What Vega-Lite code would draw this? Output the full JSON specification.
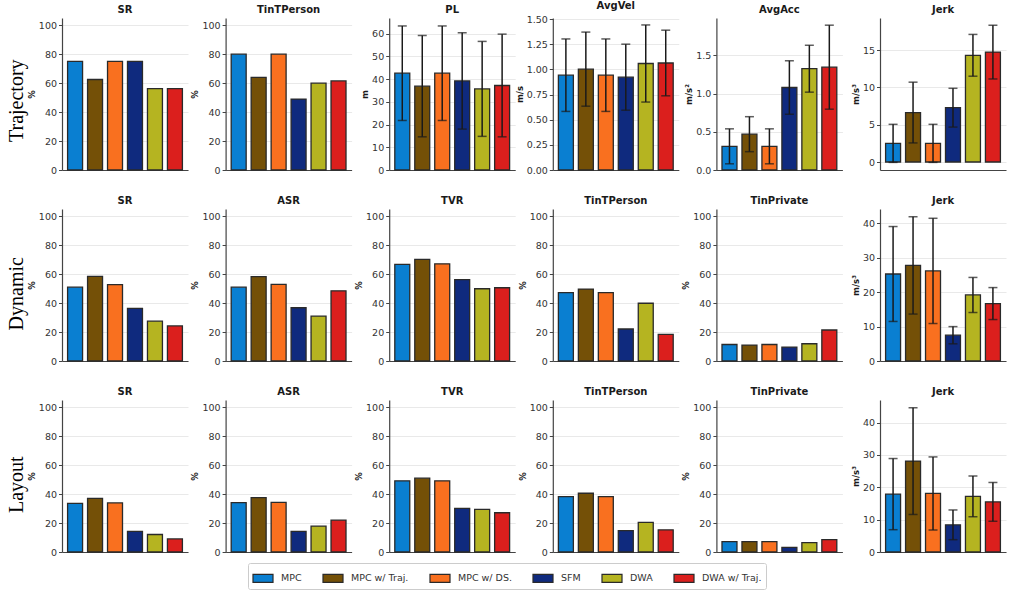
{
  "$schema": "https://vega.github.io/schema/vega-lite/v6.json",
  "background": "white",
  "padding": {"left": 7, "top": 1, "right": 4, "bottom": 2},
  "data": {
    "values": [
      {"scenario": "Trajectory", "metric": "SR", "method": "MPC", "value": 75},
      {"scenario": "Trajectory", "metric": "SR", "method": "MPC w/ Traj.", "value": 62.5},
      {"scenario": "Trajectory", "metric": "SR", "method": "MPC w/ DS.", "value": 75},
      {"scenario": "Trajectory", "metric": "SR", "method": "SFM", "value": 75},
      {"scenario": "Trajectory", "metric": "SR", "method": "DWA", "value": 56.25},
      {"scenario": "Trajectory", "metric": "SR", "method": "DWA w/ Traj.", "value": 56.25},
      {"scenario": "Trajectory", "metric": "TinTPerson", "method": "MPC", "value": 80},
      {"scenario": "Trajectory", "metric": "TinTPerson", "method": "MPC w/ Traj.", "value": 64},
      {"scenario": "Trajectory", "metric": "TinTPerson", "method": "MPC w/ DS.", "value": 80},
      {"scenario": "Trajectory", "metric": "TinTPerson", "method": "SFM", "value": 49},
      {"scenario": "Trajectory", "metric": "TinTPerson", "method": "DWA", "value": 60},
      {"scenario": "Trajectory", "metric": "TinTPerson", "method": "DWA w/ Traj.", "value": 61.5},
      {"scenario": "Trajectory", "metric": "PL", "method": "MPC", "value": 42.6, "err": 20.8},
      {"scenario": "Trajectory", "metric": "PL", "method": "MPC w/ Traj.", "value": 36.9, "err": 22.3},
      {"scenario": "Trajectory", "metric": "PL", "method": "MPC w/ DS.", "value": 42.6, "err": 20.8},
      {"scenario": "Trajectory", "metric": "PL", "method": "SFM", "value": 39.2, "err": 21.2},
      {"scenario": "Trajectory", "metric": "PL", "method": "DWA", "value": 35.7, "err": 20.9},
      {"scenario": "Trajectory", "metric": "PL", "method": "DWA w/ Traj.", "value": 37.2, "err": 22.6},
      {"scenario": "Trajectory", "metric": "AvgVel", "method": "MPC", "value": 0.942, "err": 0.36},
      {"scenario": "Trajectory", "metric": "AvgVel", "method": "MPC w/ Traj.", "value": 1.002, "err": 0.368},
      {"scenario": "Trajectory", "metric": "AvgVel", "method": "MPC w/ DS.", "value": 0.942, "err": 0.36},
      {"scenario": "Trajectory", "metric": "AvgVel", "method": "SFM", "value": 0.922, "err": 0.328},
      {"scenario": "Trajectory", "metric": "AvgVel", "method": "DWA", "value": 1.058, "err": 0.383},
      {"scenario": "Trajectory", "metric": "AvgVel", "method": "DWA w/ Traj.", "value": 1.063, "err": 0.326},
      {"scenario": "Trajectory", "metric": "AvgAcc", "method": "MPC", "value": 0.31, "err": 0.229},
      {"scenario": "Trajectory", "metric": "AvgAcc", "method": "MPC w/ Traj.", "value": 0.469, "err": 0.229},
      {"scenario": "Trajectory", "metric": "AvgAcc", "method": "MPC w/ DS.", "value": 0.31, "err": 0.229},
      {"scenario": "Trajectory", "metric": "AvgAcc", "method": "SFM", "value": 1.08, "err": 0.35},
      {"scenario": "Trajectory", "metric": "AvgAcc", "method": "DWA", "value": 1.326, "err": 0.307},
      {"scenario": "Trajectory", "metric": "AvgAcc", "method": "DWA w/ Traj.", "value": 1.346, "err": 0.55},
      {"scenario": "Trajectory", "metric": "Jerk", "method": "MPC", "value": 2.5, "err": 2.55},
      {"scenario": "Trajectory", "metric": "Jerk", "method": "MPC w/ Traj.", "value": 6.63, "err": 4.07},
      {"scenario": "Trajectory", "metric": "Jerk", "method": "MPC w/ DS.", "value": 2.5, "err": 2.55},
      {"scenario": "Trajectory", "metric": "Jerk", "method": "SFM", "value": 7.28, "err": 2.6},
      {"scenario": "Trajectory", "metric": "Jerk", "method": "DWA", "value": 14.3, "err": 2.8},
      {"scenario": "Trajectory", "metric": "Jerk", "method": "DWA w/ Traj.", "value": 14.73, "err": 3.6},

      {"scenario": "Dynamic", "metric": "SR", "method": "MPC", "value": 51.0},
      {"scenario": "Dynamic", "metric": "SR", "method": "MPC w/ Traj.", "value": 58.5},
      {"scenario": "Dynamic", "metric": "SR", "method": "MPC w/ DS.", "value": 52.7},
      {"scenario": "Dynamic", "metric": "SR", "method": "SFM", "value": 36.4},
      {"scenario": "Dynamic", "metric": "SR", "method": "DWA", "value": 27.5},
      {"scenario": "Dynamic", "metric": "SR", "method": "DWA w/ Traj.", "value": 24.2},
      {"scenario": "Dynamic", "metric": "ASR", "method": "MPC", "value": 51.0},
      {"scenario": "Dynamic", "metric": "ASR", "method": "MPC w/ Traj.", "value": 58.3},
      {"scenario": "Dynamic", "metric": "ASR", "method": "MPC w/ DS.", "value": 52.9},
      {"scenario": "Dynamic", "metric": "ASR", "method": "SFM", "value": 36.8},
      {"scenario": "Dynamic", "metric": "ASR", "method": "DWA", "value": 31.0},
      {"scenario": "Dynamic", "metric": "ASR", "method": "DWA w/ Traj.", "value": 48.5},
      {"scenario": "Dynamic", "metric": "TVR", "method": "MPC", "value": 66.7},
      {"scenario": "Dynamic", "metric": "TVR", "method": "MPC w/ Traj.", "value": 70.2},
      {"scenario": "Dynamic", "metric": "TVR", "method": "MPC w/ DS.", "value": 67.1},
      {"scenario": "Dynamic", "metric": "TVR", "method": "SFM", "value": 56.2},
      {"scenario": "Dynamic", "metric": "TVR", "method": "DWA", "value": 49.9},
      {"scenario": "Dynamic", "metric": "TVR", "method": "DWA w/ Traj.", "value": 50.6},
      {"scenario": "Dynamic", "metric": "TinTPerson", "method": "MPC", "value": 47.3},
      {"scenario": "Dynamic", "metric": "TinTPerson", "method": "MPC w/ Traj.", "value": 49.7},
      {"scenario": "Dynamic", "metric": "TinTPerson", "method": "MPC w/ DS.", "value": 47.3},
      {"scenario": "Dynamic", "metric": "TinTPerson", "method": "SFM", "value": 22.1},
      {"scenario": "Dynamic", "metric": "TinTPerson", "method": "DWA", "value": 39.9},
      {"scenario": "Dynamic", "metric": "TinTPerson", "method": "DWA w/ Traj.", "value": 18.4},
      {"scenario": "Dynamic", "metric": "TinPrivate", "method": "MPC", "value": 11.4},
      {"scenario": "Dynamic", "metric": "TinPrivate", "method": "MPC w/ Traj.", "value": 11.0},
      {"scenario": "Dynamic", "metric": "TinPrivate", "method": "MPC w/ DS.", "value": 11.4},
      {"scenario": "Dynamic", "metric": "TinPrivate", "method": "SFM", "value": 9.6},
      {"scenario": "Dynamic", "metric": "TinPrivate", "method": "DWA", "value": 11.9},
      {"scenario": "Dynamic", "metric": "TinPrivate", "method": "DWA w/ Traj.", "value": 21.4},
      {"scenario": "Dynamic", "metric": "Jerk", "method": "MPC", "value": 25.3, "err": 13.8},
      {"scenario": "Dynamic", "metric": "Jerk", "method": "MPC w/ Traj.", "value": 27.8, "err": 14.15},
      {"scenario": "Dynamic", "metric": "Jerk", "method": "MPC w/ DS.", "value": 26.2, "err": 15.3},
      {"scenario": "Dynamic", "metric": "Jerk", "method": "SFM", "value": 7.5, "err": 2.5},
      {"scenario": "Dynamic", "metric": "Jerk", "method": "DWA", "value": 19.2, "err": 5.1},
      {"scenario": "Dynamic", "metric": "Jerk", "method": "DWA w/ Traj.", "value": 16.7, "err": 4.65},

      {"scenario": "Layout", "metric": "SR", "method": "MPC", "value": 33.6},
      {"scenario": "Layout", "metric": "SR", "method": "MPC w/ Traj.", "value": 37.1},
      {"scenario": "Layout", "metric": "SR", "method": "MPC w/ DS.", "value": 33.9},
      {"scenario": "Layout", "metric": "SR", "method": "SFM", "value": 14.2},
      {"scenario": "Layout", "metric": "SR", "method": "DWA", "value": 12.1},
      {"scenario": "Layout", "metric": "SR", "method": "DWA w/ Traj.", "value": 9.0},
      {"scenario": "Layout", "metric": "ASR", "method": "MPC", "value": 34.1},
      {"scenario": "Layout", "metric": "ASR", "method": "MPC w/ Traj.", "value": 37.6},
      {"scenario": "Layout", "metric": "ASR", "method": "MPC w/ DS.", "value": 34.3},
      {"scenario": "Layout", "metric": "ASR", "method": "SFM", "value": 14.2},
      {"scenario": "Layout", "metric": "ASR", "method": "DWA", "value": 17.9},
      {"scenario": "Layout", "metric": "ASR", "method": "DWA w/ Traj.", "value": 22.0},
      {"scenario": "Layout", "metric": "TVR", "method": "MPC", "value": 49.2},
      {"scenario": "Layout", "metric": "TVR", "method": "MPC w/ Traj.", "value": 51.0},
      {"scenario": "Layout", "metric": "TVR", "method": "MPC w/ DS.", "value": 49.2},
      {"scenario": "Layout", "metric": "TVR", "method": "SFM", "value": 30.2},
      {"scenario": "Layout", "metric": "TVR", "method": "DWA", "value": 29.5},
      {"scenario": "Layout", "metric": "TVR", "method": "DWA w/ Traj.", "value": 27.1},
      {"scenario": "Layout", "metric": "TinTPerson", "method": "MPC", "value": 38.3},
      {"scenario": "Layout", "metric": "TinTPerson", "method": "MPC w/ Traj.", "value": 40.6},
      {"scenario": "Layout", "metric": "TinTPerson", "method": "MPC w/ DS.", "value": 38.3},
      {"scenario": "Layout", "metric": "TinTPerson", "method": "SFM", "value": 14.8},
      {"scenario": "Layout", "metric": "TinTPerson", "method": "DWA", "value": 20.4},
      {"scenario": "Layout", "metric": "TinTPerson", "method": "DWA w/ Traj.", "value": 15.3},
      {"scenario": "Layout", "metric": "TinPrivate", "method": "MPC", "value": 7.2},
      {"scenario": "Layout", "metric": "TinPrivate", "method": "MPC w/ Traj.", "value": 7.2},
      {"scenario": "Layout", "metric": "TinPrivate", "method": "MPC w/ DS.", "value": 7.2},
      {"scenario": "Layout", "metric": "TinPrivate", "method": "SFM", "value": 3.2},
      {"scenario": "Layout", "metric": "TinPrivate", "method": "DWA", "value": 6.5},
      {"scenario": "Layout", "metric": "TinPrivate", "method": "DWA w/ Traj.", "value": 8.6},
      {"scenario": "Layout", "metric": "Jerk", "method": "MPC", "value": 17.9, "err": 11.0},
      {"scenario": "Layout", "metric": "Jerk", "method": "MPC w/ Traj.", "value": 28.1, "err": 16.5},
      {"scenario": "Layout", "metric": "Jerk", "method": "MPC w/ DS.", "value": 18.1, "err": 11.3},
      {"scenario": "Layout", "metric": "Jerk", "method": "SFM", "value": 8.4, "err": 4.6},
      {"scenario": "Layout", "metric": "Jerk", "method": "DWA", "value": 17.2, "err": 6.3},
      {"scenario": "Layout", "metric": "Jerk", "method": "DWA w/ Traj.", "value": 15.5, "err": 6.0}
    ]
  },
  "spacing": 21,
  "vconcat": [
    {
      "title": {"text": "Trajectory", "orient": "left", "anchor": "middle", "frame": "bounds", "font": "Liberation Serif", "fontSize": 20, "fontWeight": "normal", "color": "#000", "offset": 0, "dx": -13},
      "bounds": "flush",
      "spacing": 37.6,
      "hconcat": [
        {
          "title": "SR", "width": 126, "height": 152,
          "transform": [{"filter": "datum.scenario === 'Trajectory' && datum.metric === 'SR'"}],
          "encoding": {
            "x": {"field": "method", "type": "nominal", "sort": null, "scale": {"paddingInner": 0.25, "paddingOuter": 0.28}, "axis": {"labels": false, "ticks": false, "title": null}},
            "y": {"field": "value", "type": "quantitative", "scale": {"domain": [0, 105], "nice": false}, "axis": {"title": "%", "values": [0, 20, 40, 60, 80, 100]}}
          },
          "layer": [
            {"mark": {"type": "bar", "stroke": "#2a2a2a", "strokeWidth": 1.3}, "encoding": {"color": {"field": "method", "type": "nominal", "scale": {"domain": ["MPC", "MPC w/ Traj.", "MPC w/ DS.", "SFM", "DWA", "DWA w/ Traj."], "range": ["#0a7fd1", "#745007", "#f9701f", "#0f2a7e", "#b5b421", "#db1f1d"]}}}}
          ]
        },
        {
          "title": "TinTPerson", "width": 126, "height": 152,
          "transform": [{"filter": "datum.scenario === 'Trajectory' && datum.metric === 'TinTPerson'"}],
          "encoding": {
            "x": {"field": "method", "type": "nominal", "sort": null, "scale": {"paddingInner": 0.25, "paddingOuter": 0.28}, "axis": {"labels": false, "ticks": false, "title": null}},
            "y": {"field": "value", "type": "quantitative", "scale": {"domain": [0, 105], "nice": false}, "axis": {"title": "%", "values": [0, 20, 40, 60, 80, 100]}}
          },
          "layer": [
            {"mark": {"type": "bar", "stroke": "#2a2a2a", "strokeWidth": 1.3}, "encoding": {"color": {"field": "method", "type": "nominal", "scale": {"domain": ["MPC", "MPC w/ Traj.", "MPC w/ DS.", "SFM", "DWA", "DWA w/ Traj."], "range": ["#0a7fd1", "#745007", "#f9701f", "#0f2a7e", "#b5b421", "#db1f1d"]}}}}
          ]
        },
        {
          "title": "PL", "width": 126, "height": 152,
          "transform": [{"filter": "datum.scenario === 'Trajectory' && datum.metric === 'PL'"}],
          "encoding": {
            "x": {"field": "method", "type": "nominal", "sort": null, "scale": {"paddingInner": 0.25, "paddingOuter": 0.28}, "axis": {"labels": false, "ticks": false, "title": null}},
            "y": {"field": "value", "type": "quantitative", "scale": {"domain": [0, 66.9], "nice": false}, "axis": {"title": "m", "values": [0, 10, 20, 30, 40, 50, 60]}}
          },
          "layer": [
            {"mark": {"type": "bar", "stroke": "#2a2a2a", "strokeWidth": 1.3}, "encoding": {"color": {"field": "method", "type": "nominal", "scale": {"domain": ["MPC", "MPC w/ Traj.", "MPC w/ DS.", "SFM", "DWA", "DWA w/ Traj."], "range": ["#0a7fd1", "#745007", "#f9701f", "#0f2a7e", "#b5b421", "#db1f1d"]}}}},
            {"mark": {"type": "errorbar", "ticks": {"size": 9}, "thickness": 1.5, "color": "#1a1a1a"}, "encoding": {"y": {"field": "value", "type": "quantitative"}, "yError": {"field": "err"}}}
          ]
        },
        {
          "title": "AvgVel", "width": 126, "height": 152,
          "transform": [{"filter": "datum.scenario === 'Trajectory' && datum.metric === 'AvgVel'"}],
          "encoding": {
            "x": {"field": "method", "type": "nominal", "sort": null, "scale": {"paddingInner": 0.25, "paddingOuter": 0.28}, "axis": {"labels": false, "ticks": false, "title": null}},
            "y": {"field": "value", "type": "quantitative", "scale": {"domain": [0, 1.51], "nice": false}, "axis": {"title": "m/s", "format": ".2f", "values": [0, 0.25, 0.5, 0.75, 1, 1.25, 1.5]}}
          },
          "layer": [
            {"mark": {"type": "bar", "stroke": "#2a2a2a", "strokeWidth": 1.3}, "encoding": {"color": {"field": "method", "type": "nominal", "scale": {"domain": ["MPC", "MPC w/ Traj.", "MPC w/ DS.", "SFM", "DWA", "DWA w/ Traj."], "range": ["#0a7fd1", "#745007", "#f9701f", "#0f2a7e", "#b5b421", "#db1f1d"]}}}},
            {"mark": {"type": "errorbar", "ticks": {"size": 9}, "thickness": 1.5, "color": "#1a1a1a"}, "encoding": {"y": {"field": "value", "type": "quantitative"}, "yError": {"field": "err"}}}
          ]
        },
        {
          "title": "AvgAcc", "width": 126, "height": 152,
          "transform": [{"filter": "datum.scenario === 'Trajectory' && datum.metric === 'AvgAcc'"}],
          "encoding": {
            "x": {"field": "method", "type": "nominal", "sort": null, "scale": {"paddingInner": 0.25, "paddingOuter": 0.28}, "axis": {"labels": false, "ticks": false, "title": null}},
            "y": {"field": "value", "type": "quantitative", "scale": {"domain": [0, 1.99], "nice": false}, "axis": {"title": "m/s²", "format": ".1f", "values": [0, 0.5, 1, 1.5]}}
          },
          "layer": [
            {"mark": {"type": "bar", "stroke": "#2a2a2a", "strokeWidth": 1.3}, "encoding": {"color": {"field": "method", "type": "nominal", "scale": {"domain": ["MPC", "MPC w/ Traj.", "MPC w/ DS.", "SFM", "DWA", "DWA w/ Traj."], "range": ["#0a7fd1", "#745007", "#f9701f", "#0f2a7e", "#b5b421", "#db1f1d"]}}}},
            {"mark": {"type": "errorbar", "ticks": {"size": 9}, "thickness": 1.5, "color": "#1a1a1a"}, "encoding": {"y": {"field": "value", "type": "quantitative"}, "yError": {"field": "err"}}}
          ]
        },
        {
          "title": "Jerk", "width": 126, "height": 152,
          "transform": [{"filter": "datum.scenario === 'Trajectory' && datum.metric === 'Jerk'"}],
          "encoding": {
            "x": {"field": "method", "type": "nominal", "sort": null, "scale": {"paddingInner": 0.25, "paddingOuter": 0.28}, "axis": {"labels": false, "ticks": false, "title": null}},
            "y": {"field": "value", "type": "quantitative", "scale": {"domain": [-1.07, 19.3], "nice": false}, "axis": {"title": "m/s³", "values": [0, 5, 10, 15]}}
          },
          "layer": [
            {"mark": {"type": "bar", "stroke": "#2a2a2a", "strokeWidth": 1.3}, "encoding": {"color": {"field": "method", "type": "nominal", "scale": {"domain": ["MPC", "MPC w/ Traj.", "MPC w/ DS.", "SFM", "DWA", "DWA w/ Traj."], "range": ["#0a7fd1", "#745007", "#f9701f", "#0f2a7e", "#b5b421", "#db1f1d"]}}}},
            {"mark": {"type": "errorbar", "ticks": {"size": 9}, "thickness": 1.5, "color": "#1a1a1a"}, "encoding": {"y": {"field": "value", "type": "quantitative"}, "yError": {"field": "err"}}}
          ]
        }
      ]
    },
    {
      "title": {"text": "Dynamic", "orient": "left", "anchor": "middle", "frame": "bounds", "font": "Liberation Serif", "fontSize": 20, "fontWeight": "normal", "color": "#000", "offset": 0, "dx": -13},
      "bounds": "flush",
      "spacing": 37.6,
      "hconcat": [
        {
          "title": "SR", "width": 126, "height": 152,
          "transform": [{"filter": "datum.scenario === 'Dynamic' && datum.metric === 'SR'"}],
          "encoding": {
            "x": {"field": "method", "type": "nominal", "sort": null, "scale": {"paddingInner": 0.25, "paddingOuter": 0.28}, "axis": {"labels": false, "ticks": false, "title": null}},
            "y": {"field": "value", "type": "quantitative", "scale": {"domain": [0, 105], "nice": false}, "axis": {"title": "%", "values": [0, 20, 40, 60, 80, 100]}}
          },
          "layer": [
            {"mark": {"type": "bar", "stroke": "#2a2a2a", "strokeWidth": 1.3}, "encoding": {"color": {"field": "method", "type": "nominal", "scale": {"domain": ["MPC", "MPC w/ Traj.", "MPC w/ DS.", "SFM", "DWA", "DWA w/ Traj."], "range": ["#0a7fd1", "#745007", "#f9701f", "#0f2a7e", "#b5b421", "#db1f1d"]}}}}
          ]
        },
        {
          "title": "ASR", "width": 126, "height": 152,
          "transform": [{"filter": "datum.scenario === 'Dynamic' && datum.metric === 'ASR'"}],
          "encoding": {
            "x": {"field": "method", "type": "nominal", "sort": null, "scale": {"paddingInner": 0.25, "paddingOuter": 0.28}, "axis": {"labels": false, "ticks": false, "title": null}},
            "y": {"field": "value", "type": "quantitative", "scale": {"domain": [0, 105], "nice": false}, "axis": {"title": "%", "values": [0, 20, 40, 60, 80, 100]}}
          },
          "layer": [
            {"mark": {"type": "bar", "stroke": "#2a2a2a", "strokeWidth": 1.3}, "encoding": {"color": {"field": "method", "type": "nominal", "scale": {"domain": ["MPC", "MPC w/ Traj.", "MPC w/ DS.", "SFM", "DWA", "DWA w/ Traj."], "range": ["#0a7fd1", "#745007", "#f9701f", "#0f2a7e", "#b5b421", "#db1f1d"]}}}}
          ]
        },
        {
          "title": "TVR", "width": 126, "height": 152,
          "transform": [{"filter": "datum.scenario === 'Dynamic' && datum.metric === 'TVR'"}],
          "encoding": {
            "x": {"field": "method", "type": "nominal", "sort": null, "scale": {"paddingInner": 0.25, "paddingOuter": 0.28}, "axis": {"labels": false, "ticks": false, "title": null}},
            "y": {"field": "value", "type": "quantitative", "scale": {"domain": [0, 105], "nice": false}, "axis": {"title": "%", "values": [0, 20, 40, 60, 80, 100]}}
          },
          "layer": [
            {"mark": {"type": "bar", "stroke": "#2a2a2a", "strokeWidth": 1.3}, "encoding": {"color": {"field": "method", "type": "nominal", "scale": {"domain": ["MPC", "MPC w/ Traj.", "MPC w/ DS.", "SFM", "DWA", "DWA w/ Traj."], "range": ["#0a7fd1", "#745007", "#f9701f", "#0f2a7e", "#b5b421", "#db1f1d"]}}}}
          ]
        },
        {
          "title": "TinTPerson", "width": 126, "height": 152,
          "transform": [{"filter": "datum.scenario === 'Dynamic' && datum.metric === 'TinTPerson'"}],
          "encoding": {
            "x": {"field": "method", "type": "nominal", "sort": null, "scale": {"paddingInner": 0.25, "paddingOuter": 0.28}, "axis": {"labels": false, "ticks": false, "title": null}},
            "y": {"field": "value", "type": "quantitative", "scale": {"domain": [0, 105], "nice": false}, "axis": {"title": "%", "values": [0, 20, 40, 60, 80, 100]}}
          },
          "layer": [
            {"mark": {"type": "bar", "stroke": "#2a2a2a", "strokeWidth": 1.3}, "encoding": {"color": {"field": "method", "type": "nominal", "scale": {"domain": ["MPC", "MPC w/ Traj.", "MPC w/ DS.", "SFM", "DWA", "DWA w/ Traj."], "range": ["#0a7fd1", "#745007", "#f9701f", "#0f2a7e", "#b5b421", "#db1f1d"]}}}}
          ]
        },
        {
          "title": "TinPrivate", "width": 126, "height": 152,
          "transform": [{"filter": "datum.scenario === 'Dynamic' && datum.metric === 'TinPrivate'"}],
          "encoding": {
            "x": {"field": "method", "type": "nominal", "sort": null, "scale": {"paddingInner": 0.25, "paddingOuter": 0.28}, "axis": {"labels": false, "ticks": false, "title": null}},
            "y": {"field": "value", "type": "quantitative", "scale": {"domain": [0, 105], "nice": false}, "axis": {"title": "%", "values": [0, 20, 40, 60, 80, 100]}}
          },
          "layer": [
            {"mark": {"type": "bar", "stroke": "#2a2a2a", "strokeWidth": 1.3}, "encoding": {"color": {"field": "method", "type": "nominal", "scale": {"domain": ["MPC", "MPC w/ Traj.", "MPC w/ DS.", "SFM", "DWA", "DWA w/ Traj."], "range": ["#0a7fd1", "#745007", "#f9701f", "#0f2a7e", "#b5b421", "#db1f1d"]}}}}
          ]
        },
        {
          "title": "Jerk", "width": 126, "height": 152,
          "transform": [{"filter": "datum.scenario === 'Dynamic' && datum.metric === 'Jerk'"}],
          "encoding": {
            "x": {"field": "method", "type": "nominal", "sort": null, "scale": {"paddingInner": 0.25, "paddingOuter": 0.28}, "axis": {"labels": false, "ticks": false, "title": null}},
            "y": {"field": "value", "type": "quantitative", "scale": {"domain": [0, 44.2], "nice": false}, "axis": {"title": "m/s³", "values": [0, 10, 20, 30, 40]}}
          },
          "layer": [
            {"mark": {"type": "bar", "stroke": "#2a2a2a", "strokeWidth": 1.3}, "encoding": {"color": {"field": "method", "type": "nominal", "scale": {"domain": ["MPC", "MPC w/ Traj.", "MPC w/ DS.", "SFM", "DWA", "DWA w/ Traj."], "range": ["#0a7fd1", "#745007", "#f9701f", "#0f2a7e", "#b5b421", "#db1f1d"]}}}},
            {"mark": {"type": "errorbar", "ticks": {"size": 9}, "thickness": 1.5, "color": "#1a1a1a"}, "encoding": {"y": {"field": "value", "type": "quantitative"}, "yError": {"field": "err"}}}
          ]
        }
      ]
    },
    {
      "title": {"text": "Layout", "orient": "left", "anchor": "middle", "frame": "bounds", "font": "Liberation Serif", "fontSize": 20, "fontWeight": "normal", "color": "#000", "offset": 0, "dx": -13},
      "bounds": "flush",
      "spacing": 37.6,
      "hconcat": [
        {
          "title": "SR", "width": 126, "height": 152,
          "transform": [{"filter": "datum.scenario === 'Layout' && datum.metric === 'SR'"}],
          "encoding": {
            "x": {"field": "method", "type": "nominal", "sort": null, "scale": {"paddingInner": 0.25, "paddingOuter": 0.28}, "axis": {"labels": false, "ticks": false, "title": null}},
            "y": {"field": "value", "type": "quantitative", "scale": {"domain": [0, 105], "nice": false}, "axis": {"title": "%", "values": [0, 20, 40, 60, 80, 100]}}
          },
          "layer": [
            {"mark": {"type": "bar", "stroke": "#2a2a2a", "strokeWidth": 1.3}, "encoding": {"color": {"field": "method", "type": "nominal", "scale": {"domain": ["MPC", "MPC w/ Traj.", "MPC w/ DS.", "SFM", "DWA", "DWA w/ Traj."], "range": ["#0a7fd1", "#745007", "#f9701f", "#0f2a7e", "#b5b421", "#db1f1d"]}}}}
          ]
        },
        {
          "title": "ASR", "width": 126, "height": 152,
          "transform": [{"filter": "datum.scenario === 'Layout' && datum.metric === 'ASR'"}],
          "encoding": {
            "x": {"field": "method", "type": "nominal", "sort": null, "scale": {"paddingInner": 0.25, "paddingOuter": 0.28}, "axis": {"labels": false, "ticks": false, "title": null}},
            "y": {"field": "value", "type": "quantitative", "scale": {"domain": [0, 105], "nice": false}, "axis": {"title": "%", "values": [0, 20, 40, 60, 80, 100]}}
          },
          "layer": [
            {"mark": {"type": "bar", "stroke": "#2a2a2a", "strokeWidth": 1.3}, "encoding": {"color": {"field": "method", "type": "nominal", "scale": {"domain": ["MPC", "MPC w/ Traj.", "MPC w/ DS.", "SFM", "DWA", "DWA w/ Traj."], "range": ["#0a7fd1", "#745007", "#f9701f", "#0f2a7e", "#b5b421", "#db1f1d"]}}}}
          ]
        },
        {
          "title": "TVR", "width": 126, "height": 152,
          "transform": [{"filter": "datum.scenario === 'Layout' && datum.metric === 'TVR'"}],
          "encoding": {
            "x": {"field": "method", "type": "nominal", "sort": null, "scale": {"paddingInner": 0.25, "paddingOuter": 0.28}, "axis": {"labels": false, "ticks": false, "title": null}},
            "y": {"field": "value", "type": "quantitative", "scale": {"domain": [0, 105], "nice": false}, "axis": {"title": "%", "values": [0, 20, 40, 60, 80, 100]}}
          },
          "layer": [
            {"mark": {"type": "bar", "stroke": "#2a2a2a", "strokeWidth": 1.3}, "encoding": {"color": {"field": "method", "type": "nominal", "scale": {"domain": ["MPC", "MPC w/ Traj.", "MPC w/ DS.", "SFM", "DWA", "DWA w/ Traj."], "range": ["#0a7fd1", "#745007", "#f9701f", "#0f2a7e", "#b5b421", "#db1f1d"]}}}}
          ]
        },
        {
          "title": "TinTPerson", "width": 126, "height": 152,
          "transform": [{"filter": "datum.scenario === 'Layout' && datum.metric === 'TinTPerson'"}],
          "encoding": {
            "x": {"field": "method", "type": "nominal", "sort": null, "scale": {"paddingInner": 0.25, "paddingOuter": 0.28}, "axis": {"labels": false, "ticks": false, "title": null}},
            "y": {"field": "value", "type": "quantitative", "scale": {"domain": [0, 105], "nice": false}, "axis": {"title": "%", "values": [0, 20, 40, 60, 80, 100]}}
          },
          "layer": [
            {"mark": {"type": "bar", "stroke": "#2a2a2a", "strokeWidth": 1.3}, "encoding": {"color": {"field": "method", "type": "nominal", "scale": {"domain": ["MPC", "MPC w/ Traj.", "MPC w/ DS.", "SFM", "DWA", "DWA w/ Traj."], "range": ["#0a7fd1", "#745007", "#f9701f", "#0f2a7e", "#b5b421", "#db1f1d"]}}}}
          ]
        },
        {
          "title": "TinPrivate", "width": 126, "height": 152,
          "transform": [{"filter": "datum.scenario === 'Layout' && datum.metric === 'TinPrivate'"}],
          "encoding": {
            "x": {"field": "method", "type": "nominal", "sort": null, "scale": {"paddingInner": 0.25, "paddingOuter": 0.28}, "axis": {"labels": false, "ticks": false, "title": null}},
            "y": {"field": "value", "type": "quantitative", "scale": {"domain": [0, 105], "nice": false}, "axis": {"title": "%", "values": [0, 20, 40, 60, 80, 100]}}
          },
          "layer": [
            {"mark": {"type": "bar", "stroke": "#2a2a2a", "strokeWidth": 1.3}, "encoding": {"color": {"field": "method", "type": "nominal", "scale": {"domain": ["MPC", "MPC w/ Traj.", "MPC w/ DS.", "SFM", "DWA", "DWA w/ Traj."], "range": ["#0a7fd1", "#745007", "#f9701f", "#0f2a7e", "#b5b421", "#db1f1d"]}}}}
          ]
        },
        {
          "title": "Jerk", "width": 126, "height": 152,
          "transform": [{"filter": "datum.scenario === 'Layout' && datum.metric === 'Jerk'"}],
          "encoding": {
            "x": {"field": "method", "type": "nominal", "sort": null, "scale": {"paddingInner": 0.25, "paddingOuter": 0.28}, "axis": {"labels": false, "ticks": false, "title": null}},
            "y": {"field": "value", "type": "quantitative", "scale": {"domain": [0, 47], "nice": false}, "axis": {"title": "m/s³", "values": [0, 10, 20, 30, 40]}}
          },
          "layer": [
            {"mark": {"type": "bar", "stroke": "#2a2a2a", "strokeWidth": 1.3}, "encoding": {"color": {"field": "method", "type": "nominal", "scale": {"domain": ["MPC", "MPC w/ Traj.", "MPC w/ DS.", "SFM", "DWA", "DWA w/ Traj."], "range": ["#0a7fd1", "#745007", "#f9701f", "#0f2a7e", "#b5b421", "#db1f1d"]}}}},
            {"mark": {"type": "errorbar", "ticks": {"size": 9}, "thickness": 1.5, "color": "#1a1a1a"}, "encoding": {"y": {"field": "value", "type": "quantitative"}, "yError": {"field": "err"}}}
          ]
        }
      ]
    }
  ],
  "config": {
    "view": {"stroke": null},
    "font": "DejaVu Sans",
    "title": {"font": "DejaVu Sans", "fontSize": 10, "fontWeight": "bold", "color": "#1a1a1a", "offset": 3, "frame": "group"},
    "axis": {
      "labelFont": "DejaVu Sans", "labelFontSize": 9.5, "labelColor": "#333",
      "titleFont": "DejaVu Sans", "titleFontSize": 8.5, "titleFontWeight": "bold", "titleColor": "#1a1a1a",
      "domainColor": "#444", "domainWidth": 1.2, "tickColor": "#444", "tickSize": 3.5, "labelPadding": 2, "titlePadding": 2,
      "gridColor": "#e9e9e9", "gridWidth": 1
    },
    "axisX": {"grid": false},
    "axisY": {"grid": true},
    "legend": {
      "orient": "bottom", "direction": "horizontal", "title": null,
      "symbolType": "M-1,-0.4H1V0.4H-1Z", "symbolSize": 400, "symbolStrokeColor": "#2a2a2a", "symbolStrokeWidth": 1.2, "symbolOpacity": 1,
      "labelFont": "DejaVu Sans", "labelFontSize": 9.5, "labelColor": "#333", "labelOffset": 7,
      "columnPadding": 18, "strokeColor": "#cccccc", "padding": 4, "cornerRadius": 2, "offset": 6,
      "layout": {"bottom": {"anchor": "middle"}}
    }
  }
}
